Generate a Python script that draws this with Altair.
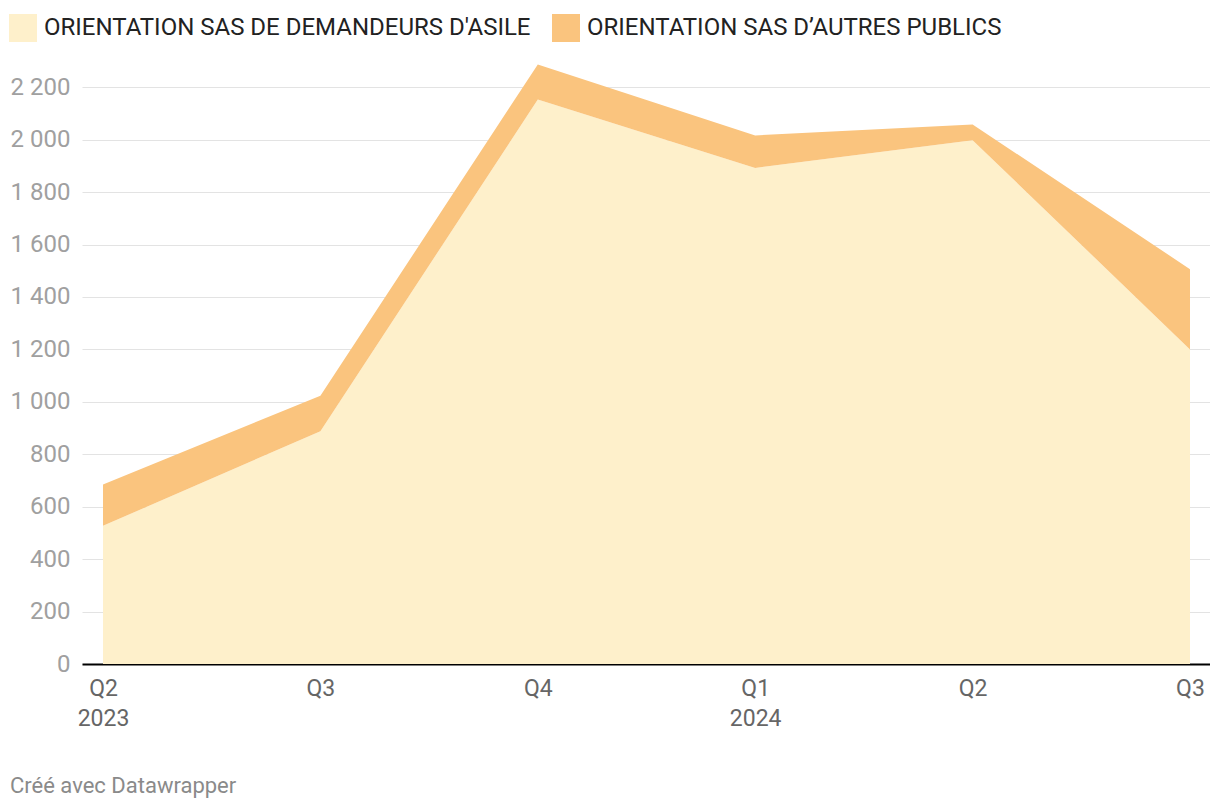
import altair as alt
import pandas as pd

quarters = ["Q2", "Q3", "Q4", "Q1", "Q2", "Q3"]
years = ["2023", "", "", "2024", "", ""]
series_names = ["ORIENTATION SAS DE DEMANDEURS D'ASILE", "ORIENTATION SAS D\u2019AUTRES PUBLICS"]
asile = [527, 888, 2153, 1892, 1998, 1200]
autres = [158, 135, 134, 124, 60, 306]
colors = ["#FEF0CB", "#FAC47E"]
y_ticks = [0, 200, 400, 600, 800, 1000, 1200, 1400, 1600, 1800, 2000, 2200]
footer = "Créé avec Datawrapper"

rows = []
for i in range(len(quarters)):
    rows.append({"idx": i, "serie": series_names[0], "val": asile[i], "ord": 0})
    rows.append({"idx": i, "serie": series_names[1], "val": autres[i], "ord": 1})
df = pd.DataFrame(rows)

q_js = "[" + ",".join('"%s"' % q for q in quarters) + "]"
y_js = "[" + ",".join('"%s"' % y for y in years) + "]"
label_expr = "[%s[datum.value], %s[datum.value]]" % (q_js, y_js)

area = alt.Chart(df).mark_area(opacity=1, strokeWidth=0).encode(
    x=alt.X("idx:Q",
            scale=alt.Scale(domain=[-0.0966, 5.092], nice=False, zero=False),
            axis=alt.Axis(values=list(range(len(quarters))), labelExpr=label_expr,
                          title=None, grid=False, ticks=False, domain=True,
                          domainColor="#000000", domainWidth=2,
                          labelFont="Roboto", labelFontSize=23, labelColor="#666666",
                          labelPadding=13, labelLineHeight=30, labelBaseline="top",
                          labelFlush=False, labelOverlap=False)),
    y=alt.Y("val:Q", stack="zero",
            scale=alt.Scale(domain=[0, 2300], nice=False),
            axis=alt.Axis(values=y_ticks, title=None, ticks=False, domain=False,
                          grid=True, gridColor="#e3e3e3", gridWidth=1,
                          labelExpr="replace(format(datum.value, ','), ',', ' ')",
                          labelFont="Roboto", labelFontSize=24, labelColor="#a0a0a0",
                          labelPadding=12)),
    color=alt.Color("serie:N",
                    scale=alt.Scale(domain=series_names, range=colors),
                    legend=alt.Legend(title=None, orient="none", legendX=-73, legendY=-47,
                                      direction="horizontal", symbolType="square",
                                      symbolSize=784, symbolStrokeWidth=0,
                                      labelFont="Roboto", labelFontSize=24,
                                      labelColor="#222222", labelOffset=7,
                                      columnPadding=21, labelLimit=0)),
    order=alt.Order("ord:Q"),
)

foot = alt.Chart(pd.DataFrame({"t": [footer]})).mark_text(
    align="left", baseline="middle", font="Roboto", fontSize=22, color="#8a8a8a"
).encode(text="t:N", x=alt.value(-72), y=alt.value(725))

chart = alt.layer(area, foot).properties(
    width=1128, height=603,
    autosize=alt.AutoSizeParams(type="none"),
    padding={"left": 74, "top": 53, "right": 0, "bottom": 138},
).configure_view(stroke=None)

chart.save("out.html", embed_options={"renderer": "svg", "actions": False})
